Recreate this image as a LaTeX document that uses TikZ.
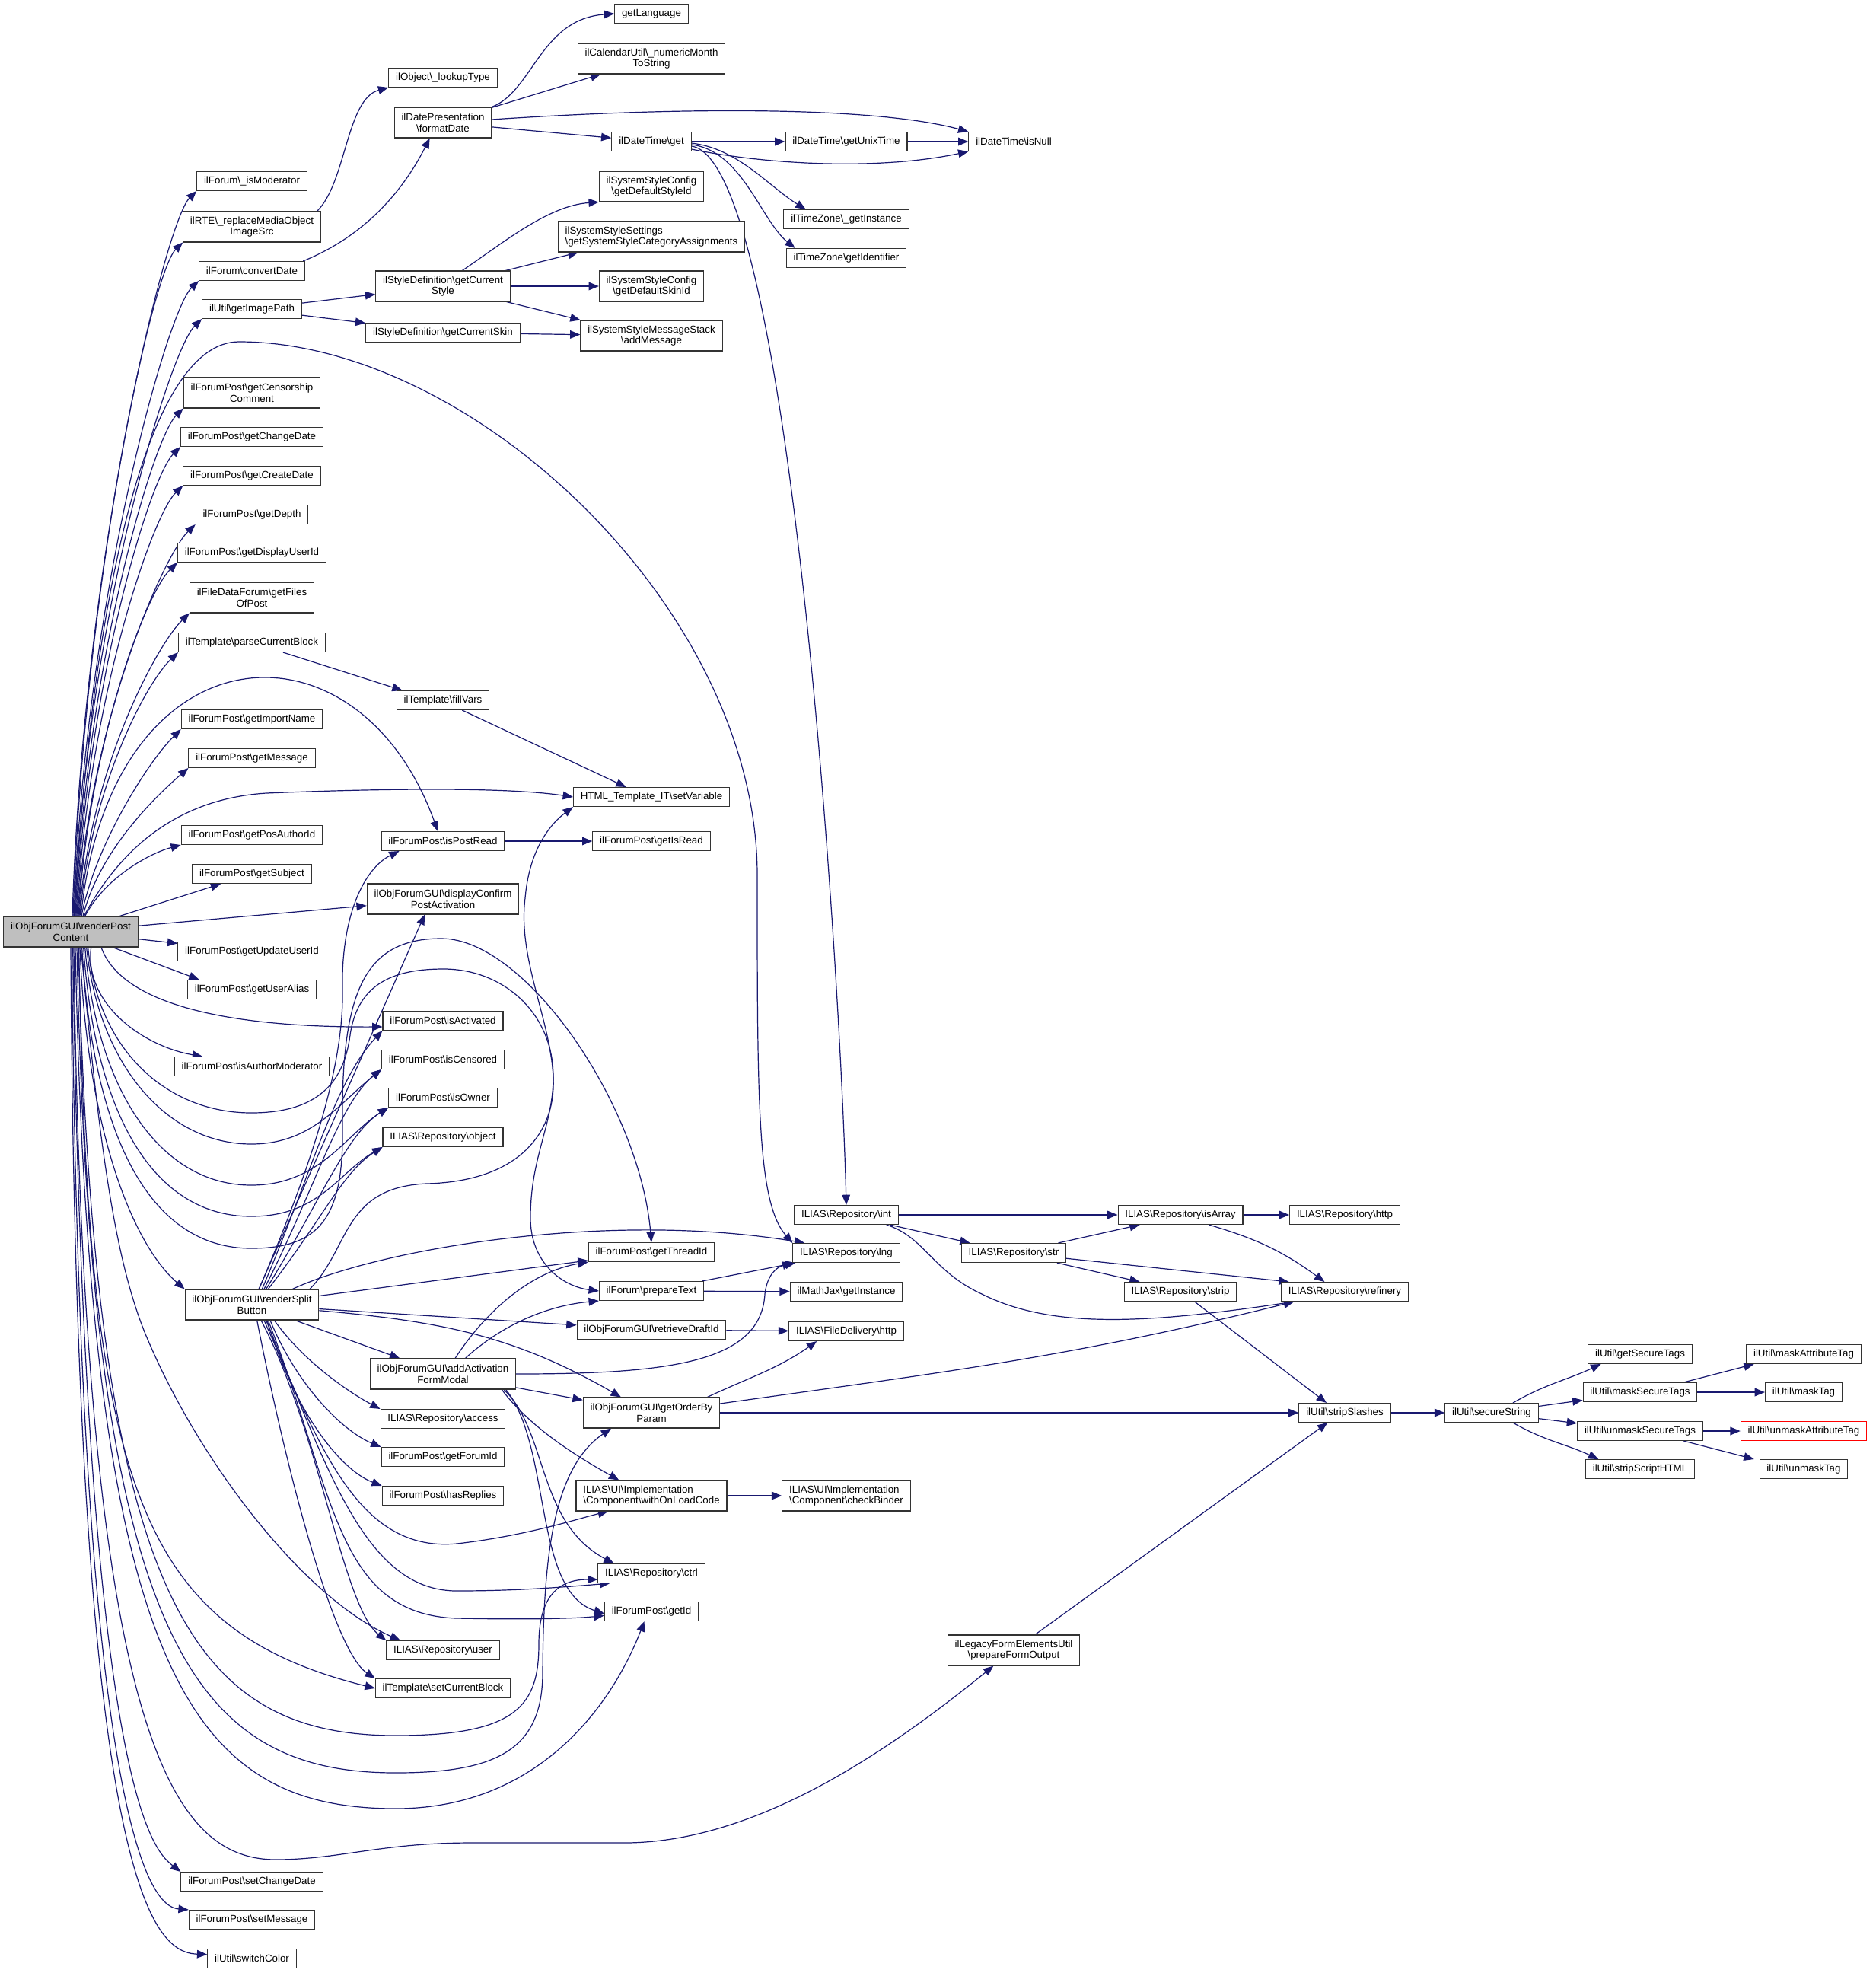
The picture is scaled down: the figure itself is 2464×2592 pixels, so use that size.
\documentclass[tikz,border=0pt]{standalone}
\usepackage{fontspec}
\setmainfont{Liberation Sans}
\usetikzlibrary{arrows.meta, backgrounds}
\definecolor{edgeblue}{HTML}{191970}
\newcommand{\bsl}{\textbackslash}
\tikzset{
  >={Triangle[length=10pt,width=8pt]},
  fn/.style={draw=black!80, fill=white, line width=0.8pt, inner xsep=7pt, inner ysep=2pt,
    minimum height=18.75pt, align=center, font=\fontsize{10}{10.9}\selectfont},
  fn2/.style={fn, minimum height=30pt},
  call/.style={->, color=edgeblue, line width=0.9pt},
}
\begin{document}
\begin{tikzpicture}[x=0.75pt, y=-0.75pt]
\useasboundingbox (0,0) rectangle (2464,2592);
\begin{scope}[on background layer]
  \fill[white] (0,0) rectangle (2464,2592);
\end{scope}

% caller
\node[fn2, fill=black!25] (root) at (93,1224) {ilObjForumGUI\bsl renderPost\\Content};

% first level
\node[fn]  (isMod)      at (331,238)  {ilForum\bsl\_isModerator};
\node[fn2] (rte)        at (331,298)  {ilRTE\bsl\_replaceMediaObject\\ImageSrc};
\node[fn]  (convDate)   at (331,356)  {ilForum\bsl convertDate};
\node[fn]  (imgPath)    at (331,406)  {ilUtil\bsl getImagePath};
\node[fn2] (censor)     at (331,516)  {ilForumPost\bsl getCensorship\\Comment};
\node[fn]  (chgDate)    at (331,574)  {ilForumPost\bsl getChangeDate};
\node[fn]  (crDate)     at (331,625)  {ilForumPost\bsl getCreateDate};
\node[fn]  (depth)      at (331,676)  {ilForumPost\bsl getDepth};
\node[fn]  (dispUser)   at (331,726)  {ilForumPost\bsl getDisplayUserId};
\node[fn2] (files)      at (331,785)  {ilFileDataForum\bsl getFiles\\OfPost};
\node[fn]  (parseBlock) at (331,844)  {ilTemplate\bsl parseCurrentBlock};
\node[fn]  (impName)    at (331,945)  {ilForumPost\bsl getImportName};
\node[fn]  (getMsg)     at (331,996)  {ilForumPost\bsl getMessage};
\node[fn]  (posAuth)    at (331,1097) {ilForumPost\bsl getPosAuthorId};
\node[fn]  (subject)    at (331,1148) {ilForumPost\bsl getSubject};
\node[fn]  (updUser)    at (331,1250) {ilForumPost\bsl getUpdateUserId};
\node[fn]  (alias)      at (331,1300) {ilForumPost\bsl getUserAlias};
\node[fn]  (authMod)    at (331,1401) {ilForumPost\bsl isAuthorModerator};
\node[fn2] (split)      at (331,1714) {ilObjForumGUI\bsl renderSplit\\Button};
\node[fn]  (setChg)     at (331,2472) {ilForumPost\bsl setChangeDate};
\node[fn]  (setMsg)     at (331,2522) {ilForumPost\bsl setMessage};
\node[fn]  (switchCol)  at (331,2573) {ilUtil\bsl switchColor};

% second level
\node[fn]  (lookup)    at (582,102)  {ilObject\bsl\_lookupType};
\node[fn2] (fmtDate)   at (582,161)  {ilDatePresentation\\\bsl formatDate};
\node[fn2] (curStyle)  at (582,376)  {ilStyleDefinition\bsl getCurrent\\Style};
\node[fn]  (curSkin)   at (582,437)  {ilStyleDefinition\bsl getCurrentSkin};
\node[fn]  (fillVars)  at (582,920)  {ilTemplate\bsl fillVars};
\node[fn]  (postRead)  at (582,1105) {ilForumPost\bsl isPostRead};
\node[fn2] (confirm)   at (582,1181) {ilObjForumGUI\bsl displayConfirm\\PostActivation};
\node[fn]  (activated) at (582,1341) {ilForumPost\bsl isActivated};
\node[fn]  (censored)  at (582,1392) {ilForumPost\bsl isCensored};
\node[fn]  (owner)     at (582,1442) {ilForumPost\bsl isOwner};
\node[fn]  (object)    at (582,1494) {ILIAS\bsl Repository\bsl object};
\node[fn2] (modal)     at (582,1805) {ilObjForumGUI\bsl addActivation\\FormModal};
\node[fn]  (access)    at (582,1864) {ILIAS\bsl Repository\bsl access};
\node[fn]  (forumId)   at (582,1914) {ilForumPost\bsl getForumId};
\node[fn]  (replies)   at (582,1965) {ilForumPost\bsl hasReplies};
\node[fn]  (user)      at (582,2168) {ILIAS\bsl Repository\bsl user};
\node[fn]  (setBlock)  at (582,2218) {ilTemplate\bsl setCurrentBlock};

% third level
\node[fn]  (lang)      at (856,18)   {getLanguage};
\node[fn2] (month)     at (856,77)   {ilCalendarUtil\bsl\_numericMonth\\ToString};
\node[fn]  (dtGet)     at (856,186)  {ilDateTime\bsl get};
\node[fn2] (defStyle)  at (856,245)  {ilSystemStyleConfig\\\bsl getDefaultStyleId};
\node[fn2, align=left] (catAssign) at (856,311) {ilSystemStyleSettings\\\bsl getSystemStyleCategoryAssignments};
\node[fn2] (defSkin)   at (856,376)  {ilSystemStyleConfig\\\bsl getDefaultSkinId};
\node[fn2] (addMsg)    at (856,441)  {ilSystemStyleMessageStack\\\bsl addMessage};
\node[fn]  (setVar)    at (856,1047) {HTML\_Template\_IT\bsl setVariable};
\node[fn]  (isRead)    at (856,1105) {ilForumPost\bsl getIsRead};
\node[fn]  (threadId)  at (856,1645) {ilForumPost\bsl getThreadId};
\node[fn]  (prepText)  at (856,1696) {ilForum\bsl prepareText};
\node[fn]  (draftId)   at (856,1747) {ilObjForumGUI\bsl retrieveDraftId};
\node[fn2] (orderBy)   at (856,1856) {ilObjForumGUI\bsl getOrderBy\\Param};
\node[fn2, align=left] (onLoad) at (856,1965) {ILIAS\bsl UI\bsl Implementation\\\bsl Component\bsl withOnLoadCode};
\node[fn]  (ctrl)      at (856,2067) {ILIAS\bsl Repository\bsl ctrl};
\node[fn]  (getId)     at (856,2117) {ilForumPost\bsl getId};

% deeper levels
\node[fn]  (unixTime)  at (1112,186)  {ilDateTime\bsl getUnixTime};
\node[fn]  (tzInst)    at (1112,288)  {ilTimeZone\bsl\_getInstance};
\node[fn]  (tzId)      at (1112,339)  {ilTimeZone\bsl getIdentifier};
\node[fn]  (int)       at (1112,1596) {ILIAS\bsl Repository\bsl int};
\node[fn]  (lng)       at (1112,1646) {ILIAS\bsl Repository\bsl lng};
\node[fn]  (mathJax)   at (1112,1697) {ilMathJax\bsl getInstance};
\node[fn]  (fdHttp)    at (1112,1749) {ILIAS\bsl FileDelivery\bsl http};
\node[fn2, align=left] (binder) at (1112,1965) {ILIAS\bsl UI\bsl Implementation\\\bsl Component\bsl checkBinder};
\node[fn]  (isNull)    at (1332,186)  {ilDateTime\bsl isNull};
\node[fn]  (str)       at (1332,1646) {ILIAS\bsl Repository\bsl str};
\node[fn2] (legacy)    at (1332,2168) {ilLegacyFormElementsUtil\\\bsl prepareFormOutput};
\node[fn]  (isArray)   at (1551,1596) {ILIAS\bsl Repository\bsl isArray};
\node[fn]  (strip)     at (1551,1697) {ILIAS\bsl Repository\bsl strip};
\node[fn]  (repoHttp)  at (1767,1596) {ILIAS\bsl Repository\bsl http};
\node[fn]  (refinery)  at (1767,1697) {ILIAS\bsl Repository\bsl refinery};
\node[fn]  (slashes)   at (1767,1856) {ilUtil\bsl stripSlashes};
\node[fn]  (secure)    at (1960,1856) {ilUtil\bsl secureString};
\node[fn]  (secTags)   at (2155,1779) {ilUtil\bsl getSecureTags};
\node[fn]  (maskSec)   at (2155,1829) {ilUtil\bsl maskSecureTags};
\node[fn]  (unmaskSec) at (2155,1880) {ilUtil\bsl unmaskSecureTags};
\node[fn]  (scriptHTML) at (2155,1930) {ilUtil\bsl stripScriptHTML};
\node[fn]  (maskAttr)  at (2370,1779) {ilUtil\bsl maskAttributeTag};
\node[fn]  (maskTag)   at (2370,1829) {ilUtil\bsl maskTag};
\node[fn, draw=red] (unmaskAttr) at (2370,1880) {ilUtil\bsl unmaskAttributeTag};
\node[fn]  (unmaskTag) at (2370,1930) {ilUtil\bsl unmaskTag};

\begin{scope}[on background layer={call}]
  % fan from the top of the caller
  \draw ([xshift=1.5pt]root.north) .. controls (110,727) and (218,291) .. (isMod.south west);
  \draw ([xshift=2.25pt]root.north) .. controls (111,761) and (200,358) .. (rte.south west);
  \draw ([xshift=3pt]root.north) .. controls (112,786) and (220,408) .. (convDate.south west);
  \draw ([xshift=3.75pt]root.north) .. controls (113,811) and (224,459) .. (imgPath.south west);
  \draw ([xshift=4.5pt]root.north) .. controls (114,870) and (201,576) .. (censor.south west);
  \draw ([xshift=5.25pt]root.north) .. controls (115,895) and (197,627) .. (chgDate.south west);
  \draw ([xshift=6pt]root.north) .. controls (116,920) and (200,677) .. (crDate.south west);
  \draw ([xshift=6.75pt]root.north) .. controls (117,946) and (216,728) .. (depth.south west);
  \draw ([xshift=7.5pt]root.north) .. controls (118,971) and (192,779) .. (dispUser.south west);
  \draw ([xshift=8.25pt]root.north) .. controls (119,1004) and (208,845) .. (files.south west);
  \draw ([xshift=9pt]root.north) .. controls (120,1030) and (193,896) .. (parseBlock.south west);
  \draw ([xshift=10.5pt]root.north) .. controls (125,1110) and (195,1000) .. (impName.south west);
  \draw ([xshift=12pt]root.north) .. controls (130,1120) and (200,1050) .. (getMsg.south west);
  \draw ([xshift=14pt]root.north) .. controls (140,1150) and (200,1120) .. (posAuth.south west);
  \draw ([xshift=3.5pt]root.north) .. controls (120,800) and (190,449) .. (314,449)
        .. controls (620,449) and (995,800) .. (995,1150)
        .. controls (995,1450) and (995,1580) .. (lng.north west);
  \draw ([xshift=10pt]root.north) .. controls (145,820) and (470,800) .. ([xshift=-5pt]postRead.north);
  \draw ([xshift=13pt]root.north) .. controls (150,1130) and (220,1050) .. (350,1042)
        .. controls (550,1034) and (680,1036) .. (setVar.west);
  \draw (root) edge (subject)
        (root) edge (confirm)
        (root) edge (updUser)
        (root) edge ([xshift=-52pt]alias.north);

  % from the bottom of the caller
  \draw ([xshift=20pt]root.south) .. controls (110,1320) and (190,1375) .. ([xshift=28pt]authMod.north west);
  \draw ([xshift=30pt]root.south) .. controls (160,1320) and (300,1350) .. ([yshift=-6pt]activated.west);
  \draw ([xshift=17pt]root.south) .. controls (128,1380) and (220,1462) .. (330,1462)
        .. controls (420,1462) and (452,1420) .. (460,1360)
        .. controls (470,1290) and (520,1273) .. (583,1273)
        .. controls (660,1273) and (728,1330) .. (727,1417)
        .. controls (726,1480) and (697,1520) .. (697,1600)
        .. controls (697,1660) and (740,1690) .. (prepText.west);
  \draw ([xshift=15.5pt]root.south) .. controls (130,1400) and (220,1503) .. (330,1503)
        .. controls (410,1503) and (445,1450) .. (censored.south west);
  \draw ([xshift=14pt]root.south) .. controls (128,1440) and (215,1557) .. (330,1557)
        .. controls (420,1557) and (455,1490) .. (owner.south west);
  \draw ([xshift=12.5pt]root.south) .. controls (126,1480) and (210,1598) .. (330,1598)
        .. controls (420,1598) and (445,1540) .. (object.south west);
  \draw ([xshift=11pt]root.south) .. controls (124,1520) and (210,1640) .. (330,1640)
        .. controls (420,1640) and (452,1600) .. (450,1480)
        .. controls (448,1300) and (480,1233) .. (580,1233)
        .. controls (690,1233) and (840,1450) .. (threadId.north);
  \draw ([xshift=9pt]root.south) .. controls (115,1500) and (180,1640) .. (split.north west);
  \draw ([xshift=10pt]root.south) .. controls (130,1500) and (150,1650) .. (190,1750)
        .. controls (260,1920) and (400,2100) .. ([xshift=14pt]user.north west);
  \draw ([xshift=8pt]root.south) .. controls (115,1950) and (180,2140) .. (setBlock.west);
  \draw ([xshift=7.5pt]root.south) .. controls (125,2100) and (250,2280) .. (520,2280)
        .. controls (680,2280) and (708,2240) .. (708,2160)
        .. controls (708,2090) and (740,2075) .. ([yshift=-6pt]ctrl.west);
  \draw ([xshift=6pt]root.south) .. controls (120,2150) and (250,2329) .. (520,2329)
        .. controls (650,2329) and (712,2300) .. (713,2200)
        .. controls (714,2050) and (725,1930) .. ([xshift=28pt]orderBy.south west);
  \draw ([xshift=4.5pt]root.south) .. controls (118,2200) and (250,2376) .. (520,2376)
        .. controls (700,2376) and (800,2250) .. ([xshift=-7pt]getId.south);
  \draw ([xshift=3pt]root.south) .. controls (110,2300) and (230,2445) .. (366,2443)
        .. controls (450,2442) and (500,2421) .. (620,2421) -- (820,2421)
        .. controls (1000,2421) and (1180,2290) .. ([xshift=-20pt]legacy.south);
  \draw ([xshift=2pt]root.south) .. controls (112,2350) and (200,2430) .. (setChg.north west);
  \draw ([xshift=1pt]root.south) .. controls (105,2420) and (200,2505) .. (setMsg.north west);
  \draw (root.south) .. controls (100,2480) and (200,2565) .. ([yshift=4pt]switchCol.west);

  % renderSplitButton
  \draw ([xshift=7pt]split.north) .. controls (410,1530) and (452,1400) .. (450,1300)
        .. controls (448,1200) and (480,1140) .. ([xshift=18pt]postRead.south west);
  \draw ([xshift=10pt]split.north) .. controls (410,1540) and (440,1420) .. (activated.south west);
  \draw ([xshift=12pt]split.north) .. controls (415,1560) and (445,1450) .. (censored.south west);
  \draw ([xshift=14pt]split.north) .. controls (420,1580) and (455,1490) .. (owner.south west);
  \draw ([xshift=16pt]split.north) .. controls (425,1600) and (450,1540) .. (object.south west);
  \draw ([xshift=57pt]split.north) .. controls (460,1640) and (450,1560) .. (560,1555)
        .. controls (690,1552) and (730,1480) .. (727,1417)
        .. controls (724,1340) and (680,1260) .. (690,1180)
        .. controls (695,1120) and (720,1085) .. (setVar.south west);
  \draw ([xshift=40pt]split.north) .. controls (500,1640) and (800,1590) .. ([xshift=12pt]lng.north west);
  \draw (split) edge ([xshift=-18pt]confirm.south)
        (split) edge (threadId)
        (split) edge (modal)
        (split) edge (draftId);
  \draw (split) to[out=-5, in=150] ([xshift=-30pt]orderBy.north);
  \draw ([xshift=22pt]split.south) .. controls (400,1790) and (460,1830) .. (access.north west);
  \draw ([xshift=18pt]split.south) .. controls (390,1820) and (450,1880) .. (forumId.north west);
  \draw ([xshift=15pt]split.south) .. controls (385,1850) and (445,1930) .. (replies.north west);
  \draw ([xshift=12pt]split.south) .. controls (420,1900) and (470,2040) .. (600,2028)
        .. controls (690,2018) and (760,1995) .. ([xshift=32pt]onLoad.south west);
  \draw ([xshift=14pt]split.south) .. controls (430,1930) and (480,2090) .. (600,2090)
        .. controls (680,2090) and (740,2085) .. ([xshift=12pt]ctrl.south west);
  \draw ([xshift=16pt]split.south) .. controls (440,1960) and (440,2120) .. (600,2126)
        .. controls (700,2128) and (760,2126) .. ([yshift=-4pt]getId.west);
  \draw ([xshift=9pt]split.south) .. controls (420,1880) and (450,2110) .. (user.north west);
  \draw ([xshift=5pt]split.south) .. controls (380,1950) and (440,2170) .. (setBlock.north west);

  % addActivationFormModal
  \draw ([xshift=12pt]modal.north) .. controls (640,1720) and (700,1670) .. (threadId.south west);
  \draw ([xshift=22pt]modal.north) .. controls (660,1740) and (720,1715) .. (prepText.south west);
  \draw (modal.east) .. controls (880,1805) and (1000,1790) .. (1005,1700)
        .. controls (1008,1675) and (1020,1665) .. (lng.south west);
  \draw (modal) edge (orderBy);
  \draw ([xshift=58pt]modal.south) .. controls (700,1880) and (770,1920) .. ([xshift=-32pt]onLoad.north);
  \draw ([xshift=60pt]modal.south) .. controls (720,1880) and (705,2000) .. ([xshift=-37pt]ctrl.north);
  \draw ([xshift=62pt]modal.south) .. controls (725,1900) and (700,2090) .. ([yshift=-2pt]getId.west);

  % upper right part
  \draw ([xshift=-4pt]rte.north east) .. controls (455,240) and (455,130) .. (lookup.south west);
  \draw ([xshift=-2pt]convDate.north east) .. controls (480,310) and (530,250) .. ([xshift=-13pt]fmtDate.south);
  \draw (imgPath) edge (curStyle) (imgPath) edge (curSkin);
  \draw (fmtDate.north east) .. controls (700,120) and (710,25) .. (lang.west);
  \draw (fmtDate) edge ([xshift=-50pt]month.south) (fmtDate) edge (dtGet);
  \draw ([yshift=3pt]fmtDate.east) .. controls (900,140) and (1150,140) .. (isNull.north west);
  \draw (dtGet) edge (unixTime) (unixTime) edge (isNull);
  \draw ([yshift=-1.5pt]dtGet.east) .. controls (970,195) and (1010,245) .. ([xshift=22pt]tzInst.north west);
  \draw ([yshift=-3pt]dtGet.east) .. controls (975,198) and (1000,290) .. ([xshift=9pt]tzId.north west);
  \draw ([yshift=-4.5pt]dtGet.east) .. controls (1040,210) and (1105,1300) .. (int.north);
  \draw ([yshift=-7.5pt]dtGet.east) .. controls (1000,215) and (1150,225) .. (isNull.south west);
  \draw ([xshift=19pt]curStyle.north) .. controls (660,320) and (720,270) .. (defStyle.south west);
  \draw (curStyle) edge ([xshift=-72pt]catAssign.south)
        (curStyle) edge (defSkin)
        (curStyle) edge ([xshift=-70pt]addMsg.north)
        (curSkin) edge (addMsg);
  \draw (parseBlock) edge ([xshift=-40pt]fillVars.north)
        (postRead) edge (isRead);
  \draw ([xshift=19pt]fillVars.south) -- ([xshift=-25pt]setVar.north);

  % lower right part
  \draw (prepText) edge (lng) (prepText) edge (mathJax) (draftId) edge (fdHttp);
  \draw ([xshift=55pt]orderBy.north) to[out=25, in=215] ([xshift=-29pt]fdHttp.south);
  \draw ([yshift=9pt]orderBy.east) to[out=8, in=194] ([xshift=13pt]refinery.south west);
  \draw (orderBy) edge (slashes) (onLoad) edge (binder);
  \draw (int) edge (isArray) (int) edge (str);
  \draw ([xshift=-12pt]int.south east) .. controls (1215,1625) and (1225,1670) .. (1290,1700)
        .. controls (1380,1745) and (1500,1740) .. ([xshift=13pt]refinery.south west);
  \draw (str) edge ([xshift=-40pt]isArray.south)
        (str) edge ([xshift=-40pt]strip.north)
        (str) edge ([xshift=8pt]refinery.north west)
        (isArray) edge (repoHttp);
  \draw ([xshift=28pt]isArray.south) to[bend left=10] ([xshift=-20pt]refinery.north);
  \draw ([xshift=14pt]strip.south) -- ([xshift=-18pt]slashes.north);
  \draw ([xshift=21pt]legacy.north) -- ([xshift=-17pt]slashes.south);
  \draw (slashes) edge (secure);
  \draw ([xshift=21pt]secure.north) to[out=30, in=205] ([xshift=13pt]secTags.south west);
  \draw ([xshift=21pt]secure.south) to[out=-30, in=155] ([xshift=13pt]scriptHTML.north west);
  \draw (secure) edge (maskSec) (secure) edge (unmaskSec);
  \draw ([xshift=43pt]maskSec.north) -- ([xshift=-49pt]maskAttr.south);
  \draw ([xshift=43pt]unmaskSec.south) -- ([xshift=-49pt]unmaskTag.north);
  \draw (maskSec) edge (maskTag) (unmaskSec) edge (unmaskAttr);
\end{scope}
\end{tikzpicture}
\end{document}
